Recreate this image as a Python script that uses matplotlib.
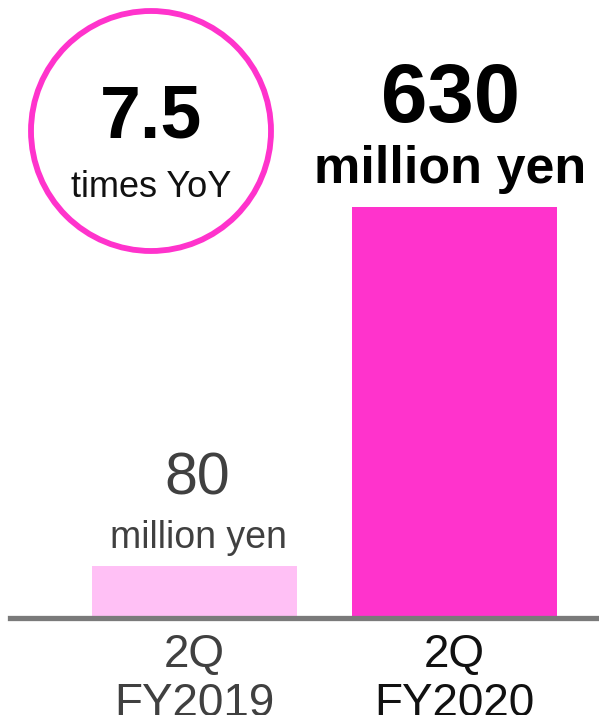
import matplotlib
matplotlib.use('Agg')
from matplotlib import pyplot as plt
from matplotlib.patches import Ellipse

plt.rcParams['font.family'] = ['Liberation Sans', 'DejaVu Sans']

# quarterly figures, million yen
periods = ['2Q\nFY2019', '2Q\nFY2020']
values = [80, 630]
bar_colors = ['#FFC0F5', '#FF33CC']
label_colors = ['#404040', '#111111']
yoy_ratio = 7.5

W, H = 599, 715
fig = plt.figure(figsize=(W / 100, H / 100), dpi=100)

# axes bottom sits on the grey baseline
base_y = 618
ax = fig.add_axes([0, 1 - base_y / H, 1, base_y / H])
ax.set_xlim(-0.748, 1.556)
ax.set_ylim(0, 630 * base_y / 411)

x = list(range(len(values)))
ax.bar(x, values, width=0.79, color=bar_colors, zorder=2)
ax.axhline(0, xmin=10 / W, xmax=1, color='#7a7a7a', lw=3.8, zorder=3, clip_on=False)

for s in ax.spines.values():
    s.set_visible(False)
ax.set_yticks([])
ax.set_xticks(x)
ax.set_xticklabels(periods, fontsize=33, linespacing=1.13)
ax.tick_params(axis='x', length=0, pad=11)
for lab, c in zip(ax.get_xticklabels(), label_colors):
    lab.set_color(c)

# value labels above bars
ax.annotate(f'{values[0]}', xy=(x[0], values[0]), xytext=(2, 51), textcoords='offset points',
            ha='center', va='baseline', fontsize=42.5, color='#404040')
ax.annotate('million yen', xy=(x[0], values[0]), xytext=(3, 13), textcoords='offset points',
            ha='center', va='baseline', fontsize=27, color='#404040')
ax.annotate(f'{values[1]}', xy=(x[1], values[1]), xytext=(-3, 61), textcoords='offset points',
            ha='center', va='baseline', fontsize=60, fontweight='bold', color='black')
ax.annotate('million yen', xy=(x[1], values[1]), xytext=(-3, 17), textcoords='offset points',
            ha='center', va='baseline', fontsize=37.5, fontweight='bold', color='black')

# YoY badge
cx, cy, r = 151, 131, 120
fig.add_artist(Ellipse((cx / W, 1 - cy / H), 2 * r / W, 2 * r / H, transform=fig.transFigure,
                       facecolor='white', edgecolor='#FF33CC', lw=4.2, zorder=5))
fig.text(cx / W, 1 - 138 / H, f'{yoy_ratio}', ha='center', va='baseline', fontsize=53,
         fontweight='bold', color='black', zorder=6)
fig.text(cx / W, 1 - 197 / H, 'times YoY', ha='center', va='baseline', fontsize=26,
         color='#111111', zorder=6)

fig.savefig('out.png', dpi=100, facecolor='white')
